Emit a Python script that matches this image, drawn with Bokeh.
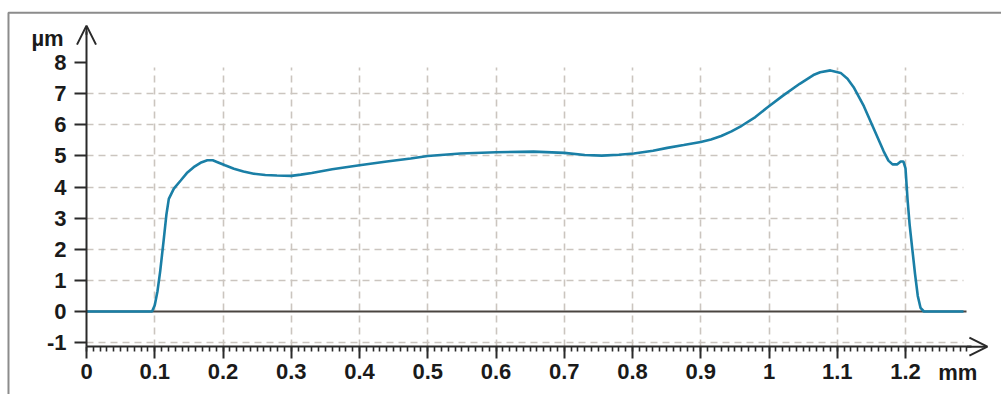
from bokeh.plotting import figure
from bokeh.models import (LinearAxis, Grid, FixedTicker, SingleIntervalTicker, BoxAnnotation,
                          Arrow, OpenHead, Label, CustomJSTickFormatter, Range1d)
from bokeh.embed import file_html
from bokeh.resources import INLINE

# ---- data (profile height in µm vs position in mm) ----
x_mm = [0, 0.096, 0.100, 0.104, 0.108, 0.113, 0.117, 0.1206, 0.128, 0.138, 0.147,
        0.157, 0.167, 0.177, 0.185, 0.192, 0.203, 0.216, 0.23, 0.245, 0.262, 0.279,
        0.30, 0.314, 0.33, 0.36, 0.40, 0.44, 0.475, 0.50, 0.548, 0.60, 0.655, 0.70,
        0.73, 0.755, 0.78, 0.802, 0.83, 0.851, 0.875, 0.90, 0.915, 0.93, 0.945, 0.96,
        0.98, 0.997, 1.02, 1.045, 1.065, 1.075, 1.09, 1.105, 1.115, 1.124, 1.139,
        1.154, 1.168, 1.175, 1.181, 1.188, 1.193, 1.197, 1.200, 1.203, 1.206, 1.210,
        1.214, 1.218, 1.222, 1.227, 1.24, 1.285]
y_um = [0, 0, 0.2, 0.65, 1.3, 2.28, 3.1, 3.62, 3.95, 4.21, 4.45,
        4.64, 4.78, 4.86, 4.86, 4.80, 4.70, 4.59, 4.50, 4.43, 4.39, 4.37,
        4.36, 4.40, 4.45, 4.57, 4.70, 4.82, 4.92, 5.0, 5.08, 5.12, 5.14, 5.10,
        5.03, 5.01, 5.04, 5.08, 5.17, 5.26, 5.35, 5.45, 5.53, 5.64, 5.79, 5.97,
        6.25, 6.55, 6.93, 7.32, 7.6, 7.69, 7.75, 7.67, 7.48, 7.21, 6.6,
        5.85, 5.15, 4.85, 4.73, 4.73, 4.82, 4.82, 4.6, 3.6, 2.8, 2.0,
        1.2, 0.5, 0.12, 0.0, 0.0, 0.0]

y_ticks = [-1, 0, 1, 2, 3, 4, 5, 6, 7, 8]
x_grid_ticks = [0.1, 0.2, 0.3, 0.4, 0.5, 0.6, 0.7, 0.8, 0.9, 1.0, 1.1, 1.2]
y_grid_ticks = [-1, 1, 2, 3, 4, 5, 6, 7]
zero_line = [0]
x_unit = "mm"
y_unit = "µm"

FONT = "Liberation Sans"
AXIS_COLOR = "#2a2a2a"
GRID_COLOR = "#cbc5bf"
FS = "22px"

p = figure(width=1001, height=394, output_backend="svg", toolbar_location=None,
           x_range=Range1d(-0.12601, 1.34066), y_range=Range1d(-2.668, 9.997),
           x_axis_type=None, y_axis_type=None, min_border=0)
p.outline_line_color = None
p.background_fill_color = "white"
p.border_fill_color = "white"

# grids
gx = Grid(dimension=0, ticker=FixedTicker(ticks=x_grid_ticks), grid_line_color=GRID_COLOR,
          grid_line_width=1.6, grid_line_dash="7 5", cross_bounds=(-1.13, 7.85))
gy = Grid(dimension=1, ticker=FixedTicker(ticks=y_grid_ticks), grid_line_color=GRID_COLOR,
          grid_line_width=1.6, grid_line_dash="7 5", cross_bounds=(0, 1.285))
g0 = Grid(dimension=1, ticker=FixedTicker(ticks=zero_line), grid_line_color="#4a4540",
          grid_line_width=2, cross_bounds=(0, 1.29))
for g in (gx, gy, g0):
    p.add_layout(g)

# frame (only top & left edges fall inside the canvas)
p.add_layout(BoxAnnotation(left=-0.1143, right=3, top=9.60, bottom=-10,
                           fill_alpha=0, line_color="#8c8c8c", line_alpha=1.0, line_width=2))

# curve
p.line(x_mm, y_um, line_color="#1a7fa6", line_width=2.6)

# axes
fmt = CustomJSTickFormatter(code="return (Math.round(tick*10)/10).toString();")
xaxis = LinearAxis(fixed_location=-1.13, bounds=(0, 1.296),
                   ticker=SingleIntervalTicker(interval=0.1, num_minor_ticks=10),
                   formatter=fmt)
yaxis = LinearAxis(fixed_location=0, bounds=(-1.13, 9.0),
                   ticker=FixedTicker(ticks=y_ticks),
                   formatter=CustomJSTickFormatter(code="return tick.toString();"))
for ax in (xaxis, yaxis):
    ax.axis_line_color = AXIS_COLOR
    ax.axis_line_width = 2
    ax.major_tick_line_color = AXIS_COLOR
    ax.major_tick_line_width = 2
    ax.major_tick_in = 0
    ax.minor_tick_in = 0
    ax.major_label_text_font = FONT
    ax.major_label_text_font_style = "bold"
    ax.major_label_text_font_size = FS
    ax.major_label_text_color = "#1a1a1a"
xaxis.major_tick_out = 12
xaxis.minor_tick_out = 5
xaxis.minor_tick_line_color = AXIS_COLOR
xaxis.minor_tick_line_width = 1.6
xaxis.major_label_standoff = 5
yaxis.major_tick_out = 12
yaxis.minor_tick_line_color = None
yaxis.major_label_standoff = 8
p.add_layout(xaxis, "below")
p.add_layout(yaxis, "left")

# arrow heads
p.add_layout(Arrow(end=OpenHead(size=19, line_color=AXIS_COLOR, line_width=2),
                   x_start=0, y_start=8.9, x_end=0, y_end=9.19,
                   line_color=AXIS_COLOR, line_width=2))
p.add_layout(Arrow(end=OpenHead(size=18, line_color=AXIS_COLOR, line_width=2),
                   x_start=1.29, y_start=-1.13, x_end=1.320, y_end=-1.13,
                   line_color=AXIS_COLOR, line_width=2))

# unit labels
p.add_layout(Label(x=-0.0571, y=8.76, text=y_unit, text_align="center", text_baseline="middle",
                   text_font=FONT, text_font_style="bold", text_font_size=FS,
                   text_color="#1a1a1a"))
p.add_layout(Label(x=1.2480, y=-1.96, text=x_unit, text_align="left", text_baseline="middle",
                   text_font=FONT, text_font_style="bold", text_font_size=FS,
                   text_color="#1a1a1a"))

open("out.html", "w").write(file_html(p, INLINE))
